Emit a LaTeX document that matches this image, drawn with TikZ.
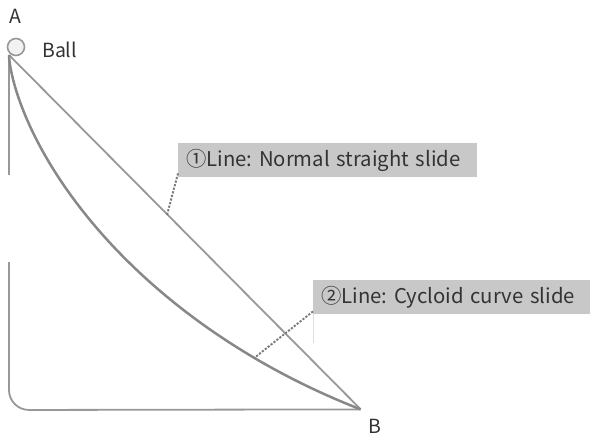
\documentclass[tikz,border=0pt]{standalone}
\usepackage{fontspec}
\setmainfont{Noto Sans CJK JP}
\frenchspacing
\definecolor{linegray}{HTML}{989898}
\definecolor{curvegray}{HTML}{888888}
\definecolor{boxgray}{HTML}{C8C8C8}
\definecolor{txt}{HTML}{333333}
\begin{document}
\begin{tikzpicture}[x=1pt,y=-1pt,
  guide/.style={draw=linegray,line width=1.8pt},
  cyc/.style={draw=curvegray,line width=2.5pt},
  lbl/.style={fill=boxgray,text=txt,anchor=north west,minimum height=34pt,inner xsep=8pt,inner ysep=0pt,font=\fontsize{20.3}{23}\selectfont,align=left},
  leader/.style={draw=curvegray!90!black,line width=1.9pt,dash pattern=on 2.2pt off 1.5pt},
  plain/.style={text=txt,font=\fontsize{19.5}{22}\selectfont,inner sep=0pt}]
\useasboundingbox (0,0) rectangle (590,436);
% points
\coordinate (A0) at (9,55);
\coordinate (B0) at (360.8,409.4);
\coordinate (c1) at (167,215);
\coordinate (c2) at ({9+204*(2.077-sin(2.077 r))},{55+204*(1-cos(2.077 r))});
% frame
\draw[guide] (A0) -- (9,175);
\draw[guide,rounded corners=20pt] (9,262) -- (9,410) -- (B0);
% straight line
\draw[guide] (A0) -- (B0);
% cycloid
\draw[cyc] plot[domain=0:2.4,samples=120,variable=\t] ({9+204*(\t-sin(\t r))},{55+204*(1-cos(\t r))});
% ball
\node[circle,draw=linegray,fill=gray!10,line width=1.6pt,minimum size=17pt,inner sep=0pt] (ball) at (16,47) {};
\node[plain] (A) at (15,16) {A};
\node[plain,anchor=west] (balllbl) at (42,50) {Ball};
\node[plain] (B) at (375,426) {B};
% labels
\node[lbl,minimum width=299pt,text width=283pt] (lab1) at (178,143) {①Line: Normal straight slide};
\node[lbl,minimum width=277pt,text width=261pt] (lab2) at (313,280) {②Line: Cycloid curve slide};
\draw[leader] ([yshift=4pt]lab1.south west) -- (c1);
\draw[leader] ([yshift=3pt]lab2.south west) -- (c2);
\draw[draw=gray!25,line width=0.6pt] (lab2.south west) -- ++(0,29);
\end{tikzpicture}
\end{document}
